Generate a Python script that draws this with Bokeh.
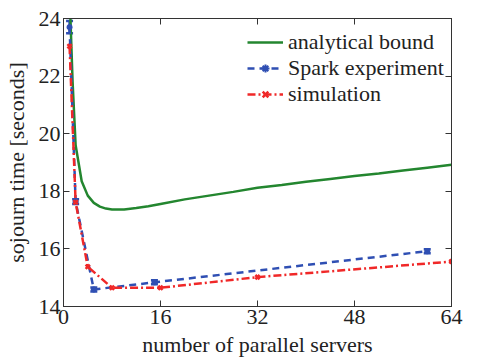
from bokeh.plotting import figure
from bokeh.models import (Range1d, FixedTicker, LinearAxis, Legend, LegendItem,
                          Whisker, ColumnDataSource, TeeHead)
from bokeh.embed import file_html
from bokeh.resources import INLINE

# ---- data ----
analytic_x = [1, 1.5, 2, 3, 4, 5, 6, 7, 8, 10, 12, 14, 16, 20, 24, 28, 32, 36, 40, 44, 48, 52, 56, 60, 64]
analytic_y = [24.9, 21.8, 19.6, 18.35, 17.85, 17.6, 17.47, 17.4, 17.37, 17.37, 17.42, 17.48, 17.56, 17.72,
              17.85, 17.98, 18.12, 18.22, 18.33, 18.43, 18.53, 18.62, 18.72, 18.82, 18.92]

spark_x = [1, 2, 5, 15, 60]
spark_y = [23.70, 17.64, 14.59, 14.84, 15.92]
spark_err = [0.21, 0.08, 0.07, 0.07, 0.07]

sim_x = [1, 2, 4, 8, 16, 32, 64]
sim_y = [23.04, 17.62, 15.38, 14.65, 14.65, 15.02, 15.56]

x_ticks = [0, 16, 32, 48, 64]
y_ticks = [14, 16, 18, 20, 22, 24]

GREEN = "#23862f"
BLUE = "#2f4fb3"
RED = "#f02828"
FONT = "Liberation Serif"
FS = "22px"

p = figure(frame_width=388, frame_height=288,
           x_range=Range1d(0, 64), y_range=Range1d(14, 24),
           output_backend="svg", toolbar_location=None,
           min_border_left=61, min_border_top=18, min_border_right=22, min_border_bottom=50)

p.xgrid.visible = False
p.ygrid.visible = False
p.outline_line_color = "#333333"
p.outline_line_width = 1
p.background_fill_color = "white"
p.border_fill_color = "white"

for ax in (p.xaxis[0], p.yaxis[0]):
    ax.major_tick_in = 6
    ax.major_tick_out = 0
    ax.minor_tick_line_color = None
    ax.axis_line_color = "#333333"
    ax.major_tick_line_color = "#333333"
    ax.major_label_text_font = FONT
    ax.major_label_text_font_size = FS
    ax.major_label_text_color = "#222222"
    ax.axis_label_text_font = FONT
    ax.axis_label_text_font_size = FS
    ax.axis_label_text_font_style = "normal"
    ax.axis_label_text_color = "#222222"

p.xaxis[0].ticker = FixedTicker(ticks=x_ticks)
p.yaxis[0].ticker = FixedTicker(ticks=y_ticks)
p.xaxis[0].axis_label = "number of parallel servers"
p.yaxis[0].axis_label = "sojourn time [seconds]"
p.xaxis[0].major_label_standoff = 3
p.xaxis[0].axis_label_standoff = 5
p.yaxis[0].major_label_standoff = 3
p.yaxis[0].axis_label_standoff = 7

# mirrored ticks on top/right (no labels)
top = LinearAxis(ticker=FixedTicker(ticks=x_ticks), major_tick_in=6, major_tick_out=0,
                 minor_tick_line_color=None,
                 major_label_overrides={t: "" for t in x_ticks},
                 major_label_standoff=0, axis_line_color="#333333", major_tick_line_color="#333333")
right = LinearAxis(ticker=FixedTicker(ticks=y_ticks), major_tick_in=6, major_tick_out=0,
                   minor_tick_line_color=None,
                   major_label_overrides={t: "" for t in y_ticks},
                   major_label_standoff=0, axis_line_color="#333333", major_tick_line_color="#333333")
p.add_layout(top, "above")
p.add_layout(right, "right")

# analytical bound
g = p.line(analytic_x, analytic_y, line_color=GREEN, line_width=2.5)

# Spark experiment
bl = p.line(spark_x, spark_y, line_color=BLUE, line_width=2.5, line_dash="7 5")
src = ColumnDataSource(data=dict(x=spark_x,
                                 upper=[y + e for y, e in zip(spark_y, spark_err)],
                                 lower=[y - e for y, e in zip(spark_y, spark_err)]))
w = Whisker(base="x", upper="upper", lower="lower", source=src,
            line_color=BLUE, line_width=2.5,
            upper_head=TeeHead(size=7, line_color=BLUE, line_width=2.5),
            lower_head=TeeHead(size=7, line_color=BLUE, line_width=2.5))
p.add_layout(w)
bm = p.scatter(spark_x, spark_y, marker="asterisk", size=6, line_color=BLUE, line_width=2)

# simulation
rl = p.line(sim_x, sim_y, line_color=RED, line_width=2.5, line_dash="8 3 2 3")
rm = p.scatter(sim_x, sim_y, marker="x", size=6, line_color=RED, line_width=2.5)

legend = Legend(items=[
    LegendItem(label="analytical bound", renderers=[g]),
    LegendItem(label="Spark experiment", renderers=[bl, bm]),
    LegendItem(label="simulation", renderers=[rl, rm]),
], location=(182, 197))
legend.label_text_font = FONT
legend.label_text_font_size = FS
legend.label_text_color = "#222222"
legend.glyph_width = 36
legend.glyph_height = 20
legend.label_height = 20
legend.label_standoff = 5
legend.spacing = 0
legend.padding = 2
legend.margin = 0
legend.border_line_alpha = 0
legend.background_fill_alpha = 0
p.add_layout(legend, "center")

open("out.html", "w").write(file_html(p, INLINE))
